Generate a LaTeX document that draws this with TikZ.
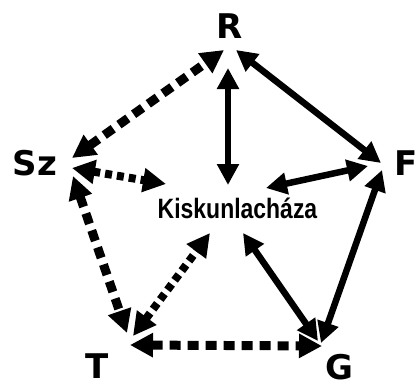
\documentclass[tikz,border=0pt]{standalone}
\usepackage{fontspec}
\usetikzlibrary{arrows.meta}
\newfontfamily\lblfont{DejaVu Sans}
\newfontfamily\kfont{Liberation Sans}
\begin{document}
\begin{tikzpicture}[x=1pt,y=-1pt,
  letter/.style={inner sep=0pt, font=\lblfont\bfseries\fontsize{34}{34}\selectfont},
  town/.style={inner sep=0pt, anchor=base, font=\kfont\bfseries\fontsize{28}{28}\selectfont},
  solidarr/.style={line width=6.5pt, {Triangle[length=21pt,width=21pt]}-{Triangle[length=21pt,width=21pt]}},
  dasharr/.style={line width=9pt, dash pattern=on 11pt off 7pt, {Triangle[length=23pt,width=23pt]}-{Triangle[length=23pt,width=23pt]}},
  dotarr/.style={line width=8pt, dash pattern=on 7pt off 5pt, {Triangle[length=23pt,width=23pt]}-{Triangle[length=23pt,width=23pt]}}]
\useasboundingbox (0,0) rectangle (418,388);
% labels
\node[letter] (R) at (230,26) {R};
\node[letter] (Sz) at (35,163) {Sz};
\node[letter] (F) at (406,163) {F};
\node[letter] (T) at (97,366) {T};
\node[letter] (G) at (339,367) {G};
\node[town] (K) at (237.5,218) {\scalebox{0.82}[1]{Kiskunlacháza}};
% connector end points
\coordinate (Rw) at (224,50);
\coordinate (Re) at (236,50);
\coordinate (Rs) at (228,68);
\coordinate (Szn) at (72,158);
\coordinate (Sze) at (72,168);
\coordinate (Szs) at (73,176);
\coordinate (Fn) at (381,163);
\coordinate (Fw) at (368,166);
\coordinate (Fs) at (382,170);
\coordinate (Tn) at (127,333);
\coordinate (Tne) at (133,336);
\coordinate (Te) at (130,345);
\coordinate (Gn) at (318,341);
\coordinate (Gne) at (321,343);
\coordinate (Gw) at (322,346);
\coordinate (Kn) at (228,185);
\coordinate (Kw) at (166,184);
\coordinate (Ke) at (266,188);
\coordinate (Ksw) at (210,233);
\coordinate (Kse) at (243,233);
% connectors
\draw[dasharr] (Szn) -- (Rw);
\draw[solidarr] (Re) -- (Fn);
\draw[solidarr] (Rs) -- (Kn);
\draw[dotarr] (Sze) -- (Kw);
\draw[solidarr] (Ke) -- (Fw);
\draw[solidarr] (Fs) -- (Gne);
\draw[dasharr] (Szs) -- (Tn);
\draw[dotarr] (Tne) -- (Ksw);
\draw[solidarr] (Kse) -- (Gn);
\draw[dasharr] (Te) -- (Gw);
\end{tikzpicture}
\end{document}
